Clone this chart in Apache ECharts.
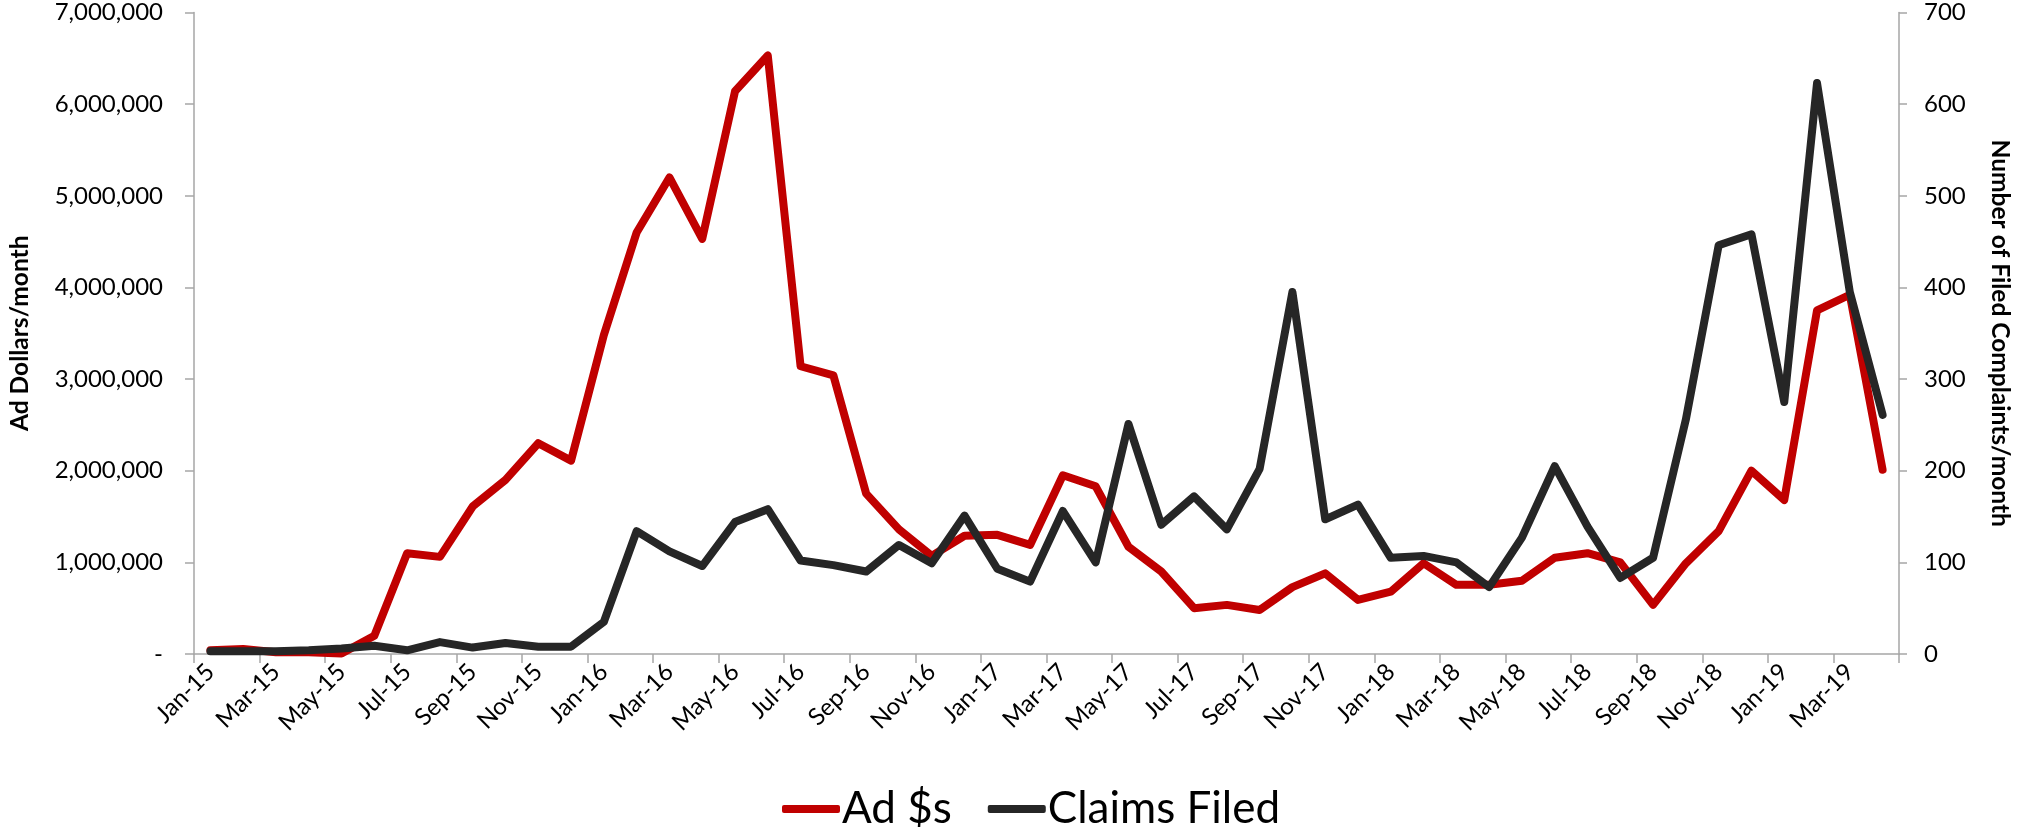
<!DOCTYPE html>
<html>
<head>
<meta charset="utf-8">
<script src="https://cdn.jsdelivr.net/npm/echarts@6/dist/echarts.min.js"></script>
<style>
html,body{margin:0;padding:0;background:#fff;}
#chart{width:2020px;height:827px;}
</style>
</head>
<body>
<div id="chart"></div>
<script>
const months = ["Jan-15","Feb-15","Mar-15","Apr-15","May-15","Jun-15","Jul-15","Aug-15","Sep-15","Oct-15","Nov-15","Dec-15",
"Jan-16","Feb-16","Mar-16","Apr-16","May-16","Jun-16","Jul-16","Aug-16","Sep-16","Oct-16","Nov-16","Dec-16",
"Jan-17","Feb-17","Mar-17","Apr-17","May-17","Jun-17","Jul-17","Aug-17","Sep-17","Oct-17","Nov-17","Dec-17",
"Jan-18","Feb-18","Mar-18","Apr-18","May-18","Jun-18","Jul-18","Aug-18","Sep-18","Oct-18","Nov-18","Dec-18",
"Jan-19","Feb-19","Mar-19","Apr-19"];
const adDollars = [40000,55000,20000,20000,5000,200000,1100000,1060000,1610000,1900000,2300000,2110000,
3480000,4600000,5200000,4530000,6140000,6530000,3140000,3040000,1750000,1360000,1070000,1290000,
1300000,1190000,1950000,1830000,1170000,900000,500000,536000,480000,730000,880000,590000,
680000,990000,755000,755000,800000,1050000,1100000,1000000,536000,990000,1340000,2000000,
1680000,3750000,3920000,2010000];
const claimsFiled = [3,3,3,4,6,9,4,13,7,12,8,8,
35,134,112,96,144,158,102,97,90,119,99,151,
93,79,156,100,251,141,172,136,202,395,147,163,
105,107,100,73,127,205,139,83,105,256,446,458,
275,623,395,261];
const seriesNames = ["Ad $s","Claims Filed"];
const leftTitle = "Ad Dollars/month";
const rightTitle = "Number of Filed Complaints/month";

const FONT = "Lato";
const axisGrey = "#A6A6A6";
const chart = echarts.init(document.getElementById('chart'), null, {renderer:'canvas'});
chart.setOption({
  animation:false,
  grid:{left:182, right:102, top:12.5, bottom:173, containLabel:false},
  legend:{
    left:777, top:782,
    itemWidth:58, itemHeight:8, itemGap:36,
    icon:'roundRect',
    textStyle:{fontFamily:FONT, fontSize:44, color:'#000', padding:[0,0,0,-3]},
    data:seriesNames
  },
  xAxis:{
    type:'category', data:months, boundaryGap:true,
    axisLine:{lineStyle:{color:axisGrey, width:1.5}},
    axisTick:{show:true, interval:1, length:9, lineStyle:{color:axisGrey, width:1.5}},
    axisLabel:{interval:1, rotate:45, margin:14, fontFamily:FONT, fontSize:24, color:'#000'},
    splitLine:{show:false}
  },
  yAxis:[{
    type:'value', min:0, max:7000000, interval:1000000, position:'left',
    name:leftTitle, nameLocation:'middle', nameRotate:90, nameGap:161,
    nameTextStyle:{fontFamily:FONT, fontSize:24.5, fontWeight:'bold', color:'#000'},
    axisLine:{show:true, lineStyle:{color:axisGrey, width:1.5}},
    axisTick:{show:true, length:9, lineStyle:{color:axisGrey, width:1.5}},
    axisLabel:{margin:31, fontFamily:FONT, fontSize:24, color:'#000',
      formatter:v=> v===0 ? '-' : v.toLocaleString('en-US')},
    splitLine:{show:false}
  },{
    type:'value', min:0, max:700, interval:100, position:'right',
    name:rightTitle, nameLocation:'middle', nameRotate:-90, nameGap:88,
    nameTextStyle:{fontFamily:FONT, fontSize:24.5, fontWeight:'bold', color:'#000'},
    axisLine:{show:true, lineStyle:{color:axisGrey, width:1.5}},
    axisTick:{show:true, length:8, lineStyle:{color:axisGrey, width:1.5}},
    axisLabel:{margin:25, fontFamily:FONT, fontSize:24, color:'#000'},
    splitLine:{show:false}
  }],
  series:[{
    name:seriesNames[0], type:'line', yAxisIndex:0, data:adDollars,
    symbol:'none', color:'#C00000',
    lineStyle:{color:'#C00000', width:8, cap:'round', join:'round'}
  },{
    name:seriesNames[1], type:'line', yAxisIndex:1, data:claimsFiled,
    symbol:'none', color:'#262626',
    lineStyle:{color:'#262626', width:8, cap:'round', join:'round'}
  }]
});
</script>
</body>
</html>
